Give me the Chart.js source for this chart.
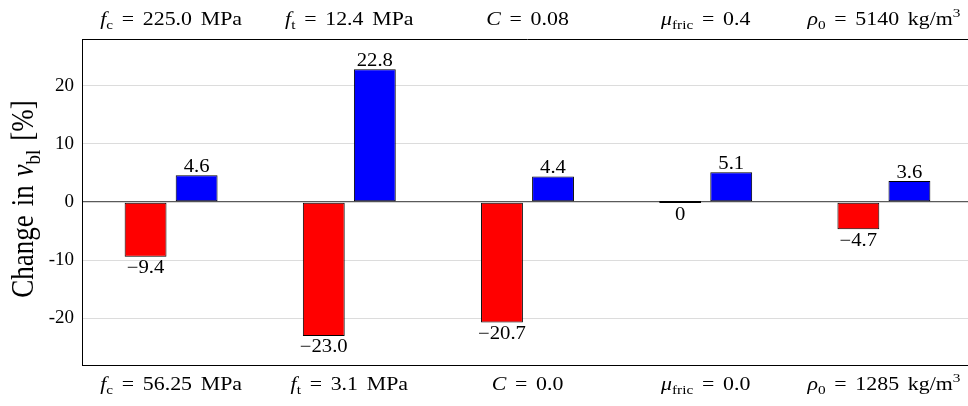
<!DOCTYPE html>
<html>
<head>
<meta charset="utf-8">
<script src="https://cdn.jsdelivr.net/npm/chart.js@4.4.1/dist/chart.umd.min.js"></script>
<style>
  html, body { margin: 0; padding: 0; background: #fff; overflow: hidden; }
</style>
</head>
<body>
<canvas id="grafico" width="973" height="406"></canvas>
<script>
const categorias = ['fc', 'ft', 'C', 'mu', 'rho0'];
// labels above the plot (high parameter value) and below it (low value)
const etiquetasArriba = ['*f*_{c} = 225.0 MPa', '*f*_{t} = 12.4 MPa', '*C* = 0.08', '*μ*_{fric} = 0.4', '*ρ*_{0} = 5140 kg/m^{3}'];
const etiquetasAbajo = ['*f*_{c} = 56.25 MPa', '*f*_{t} = 3.1 MPa', '*C* = 0.0', '*μ*_{fric} = 0.0', '*ρ*_{0} = 1285 kg/m^{3}'];
const valoresBajos = [-9.4, -23.0, -20.7, 0, -4.7];
const valoresAltos = [4.6, 22.8, 4.4, 5.1, 3.6];
const marcasY = [-20, -10, 0, 10, 20];
const tituloY = 'Change in *v*_{bl} [%]';

const FUENTE = '"Liberation Serif", "Times New Roman", serif';
const ESTIRA = 1.15;

// tiny markup: *x* italic, _{..} subscript, ^{..} superscript
const parsear = (texto) => {
    const partes = [];
    const re = /\*([^*]+)\*|_\{([^}]*)\}|\^\{([^}]*)\}|([^*_^]+)/g;
    let m;
    while ((m = re.exec(texto))) {
        if (m[1]) partes.push({ t: m[1], it: true, d: 0 });
        else if (m[2]) partes.push({ t: m[2], it: false, d: -1 });
        else if (m[3]) partes.push({ t: m[3], it: false, d: 1 });
        else partes.push({ t: m[4], it: false, d: 0 });
    }
    return partes;
};

const escribir = (ctx, texto, x, y, size, angulo = 0, extra = 0.08) => {
    const partes = parsear(texto);
    const fuente = (p) => `${p.it ? 'italic ' : ''}${p.d ? size * 0.7 : size}px ${FUENTE}`;
    let ancho = 0;
    partes.forEach(p => {
        ctx.font = fuente(p);
        p.w = ctx.measureText(p.t).width + (p.t.split(' ').length - 1) * size * extra;
        ancho += p.w;
    });
    ctx.save();
    ctx.translate(x, y);
    if (angulo) {
        ctx.rotate(angulo);
        ctx.scale(1, ESTIRA);
    } else {
        ctx.scale(ESTIRA, 1);
    }
    ctx.fillStyle = '#000';
    ctx.textAlign = 'left';
    ctx.textBaseline = 'alphabetic';
    let cx = -ancho / 2;
    partes.forEach(p => {
        ctx.font = fuente(p);
        const dy = p.d === -1 ? size * 0.22 : p.d === 1 ? -size * 0.38 : 0;
        // spread the words a little
        let px = cx;
        p.t.split(' ').forEach((palabra, i) => {
            if (i > 0) px += ctx.measureText(' ').width + size * extra;
            ctx.fillText(palabra, px, dy);
            px += ctx.measureText(palabra).width;
        });
        cx += p.w;
    });
    ctx.restore();
};

const formato = (v) => v === 0 ? '0' : (v < 0 ? '\u2212' : '') + Math.abs(v).toFixed(1);

const textos = {
    id: 'textos',
    afterDraw(chart) {
        const { ctx, chartArea } = chart;
        const x = chart.scales.x;

        // top frame line
        ctx.save();
        ctx.strokeStyle = '#000';
        ctx.lineWidth = 1;
        ctx.beginPath();
        ctx.moveTo(chartArea.left, chartArea.top + 0.5);
        ctx.lineTo(chartArea.right, chartArea.top + 0.5);
        ctx.stroke();
        ctx.restore();

        categorias.forEach((c, i) => {
            const cx = x.getPixelForValue(i);
            escribir(ctx, etiquetasArriba[i], cx, chartArea.top - 14.5, 19, 0, 0.15);
            escribir(ctx, etiquetasAbajo[i], cx, chartArea.bottom + 24.5, 19, 0, 0.15);
        });

        // value labels on the bars
        chart.data.datasets.forEach((ds, d) => {
            chart.getDatasetMeta(d).data.forEach((bar, i) => {
                const v = ds.data[i];
                if (v > 0) {
                    escribir(ctx, formato(v), bar.x, bar.y - 3, 18);
                } else {
                    escribir(ctx, formato(v), bar.x, Math.max(bar.y, bar.base) + 16.5, 18);
                }
            });
        });

        escribir(ctx, tituloY, 33, (chartArea.top + chartArea.bottom) / 2 - 3, 27, -Math.PI / 2);
    }
};

const ctx = document.querySelector('#grafico');

const grafico = new Chart(ctx, {
    type: 'bar',
    data: {
        labels: categorias,
        datasets: [{
            label: 'bajo',
            data: valoresBajos,
            backgroundColor: '#ff0000',
            borderColor: '#000',
            borderWidth: 1,
            borderSkipped: false,
            minBarLength: 2
        }, {
            label: 'alto',
            data: valoresAltos,
            backgroundColor: '#0000ff',
            borderColor: '#000',
            borderWidth: 1,
            borderSkipped: false
        }]
    },
    options: {
        responsive: false,
        animation: false,
        layout: { padding: { top: 39, right: 0, bottom: 0, left: 0 } },
        categoryPercentage: 0.573,
        barPercentage: 0.82,
        plugins: {
            legend: { display: false },
            tooltip: { enabled: false }
        },
        scales: {
            x: {
                grid: { display: false, drawTicks: false },
                ticks: { display: false },
                border: { display: true, color: '#000', width: 1 },
                afterFit: (scale) => { scale.height = 41; }
            },
            y: {
                min: -28,
                max: 28,
                afterBuildTicks: (scale) => {
                    scale.ticks = marcasY.map(v => ({ value: v }));
                },
                grid: {
                    drawTicks: false,
                    color: (c) => c.tick && c.tick.value === 0 ? '#5a5a5a' : '#dcdcdc',
                    lineWidth: (c) => c.tick && c.tick.value === 0 ? 1.3 : 1
                },
                border: { display: true, color: '#000', width: 1 },
                ticks: {
                    padding: 8,
                    color: '#000',
                    font: { family: FUENTE, size: 19 }
                },
                afterFit: (scale) => { scale.width = 82; }
            }
        }
    },
    plugins: [textos]
});
</script>
</body>
</html>
